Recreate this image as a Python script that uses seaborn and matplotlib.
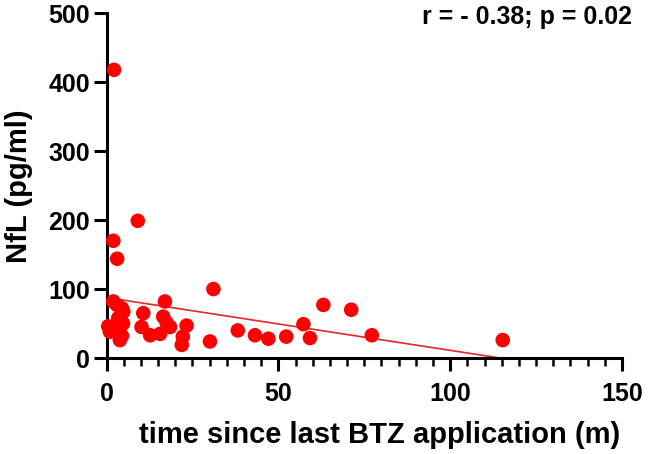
import matplotlib
matplotlib.use("Agg")
import matplotlib.pyplot as plt
import seaborn as sns
import numpy as np
import pandas as pd
from matplotlib.ticker import MultipleLocator

# data
time_months = [2.2, 2.0, 3.1, 9.1, 2.0, 3.0, 4.9, 4.5, 3.4, 4.8, 1.5, 0.5, 1.0, 2.8, 3.9, 4.5,
               10.7, 10.2, 12.7, 15.6, 17.0, 16.5, 17.5, 18.5, 23.3, 22.2, 21.9, 30.1, 31.1,
               38.2, 43.2, 47.1, 52.3, 57.3, 59.2, 63.1, 71.2, 77.2, 115.3]
nfl_pgml = [418, 170, 144, 199, 82, 77, 67, 72, 58, 50, 43, 46, 38, 40, 26, 32,
            65, 45, 33, 35, 82, 60, 51, 45, 47, 31, 19, 24, 100,
            40, 33, 28, 31, 49, 29, 77, 70, 33, 26]
fit_intercept = 87.7
fit_slope = -0.766
x_ticks = [0, 50, 100, 150]
y_ticks = [0, 100, 200, 300, 400, 500]
annotation = "r = - 0.38; p = 0.02"

df = pd.DataFrame({"time": time_months, "nfl": nfl_pgml})

sns.set_theme(style="ticks")
plt.rcParams['font.family'] = ['Liberation Sans', 'DejaVu Sans']
plt.rcParams['font.weight'] = 'bold'
plt.rcParams['text.color'] = 'black'
plt.rcParams['axes.labelcolor'] = 'black'
plt.rcParams['xtick.color'] = 'black'
plt.rcParams['ytick.color'] = 'black'

W, H = 648, 454
x0_px, x1_px, y0_px, y1_px = 106.5, 622, 358, 13.3
fig = plt.figure(figsize=(W/100, H/100), dpi=100)
ax = fig.add_axes([x0_px/W, 1 - y0_px/H, (x1_px - x0_px)/W, (y0_px - y1_px)/H])

xf = np.array([min(time_months), max(time_months)])
sns.lineplot(x=xf, y=fit_intercept + fit_slope * xf, ax=ax, color="#E3282C", lw=1.2, zorder=2)
sns.scatterplot(data=df, x="time", y="nfl", ax=ax, color="#FF0000", s=110, edgecolor="none",
                linewidth=0, zorder=3, clip_on=False)

ax.set_xlim(0, 150)
ax.set_ylim(0, 500)
ax.set_xticks(x_ticks)
ax.set_yticks(y_ticks)
ax.xaxis.set_minor_locator(MultipleLocator(5))
for s in ["top", "right"]:
    ax.spines[s].set_visible(False)
for s in ["left", "bottom"]:
    ax.spines[s].set_linewidth(2.2)
    ax.spines[s].set_color("black")
ax.tick_params(axis="both", which="major", length=9.5, width=2.2, labelsize=18)
ax.tick_params(axis="y", which="major", pad=2.5)
ax.tick_params(axis="x", which="major", pad=7.5)
ax.tick_params(axis="x", which="minor", length=5.5, width=1.8)
for lab in ax.get_xticklabels() + ax.get_yticklabels():
    lab.set_fontweight("bold")

ax.set_xlabel("time since last BTZ application (m)", fontsize=21, fontweight="bold")
ax.set_ylabel("NfL (pg/ml)", fontsize=21, fontweight="bold")
ax.xaxis.set_label_coords((380 - x0_px)/(x1_px - x0_px), -(421 - y0_px)/(y0_px - y1_px))
ax.xaxis.label.set_va("top")
ax.yaxis.set_label_coords((19 - x0_px)/(x1_px - x0_px), (y0_px - 186)/(y0_px - y1_px))
ax.yaxis.label.set_va("center")
ax.yaxis.label.set_ha("center")

fig.text(632/W, 1 - 17/H, annotation, ha="right", va="center", fontsize=18, fontweight="bold")

fig.savefig("out.png", dpi=100)
